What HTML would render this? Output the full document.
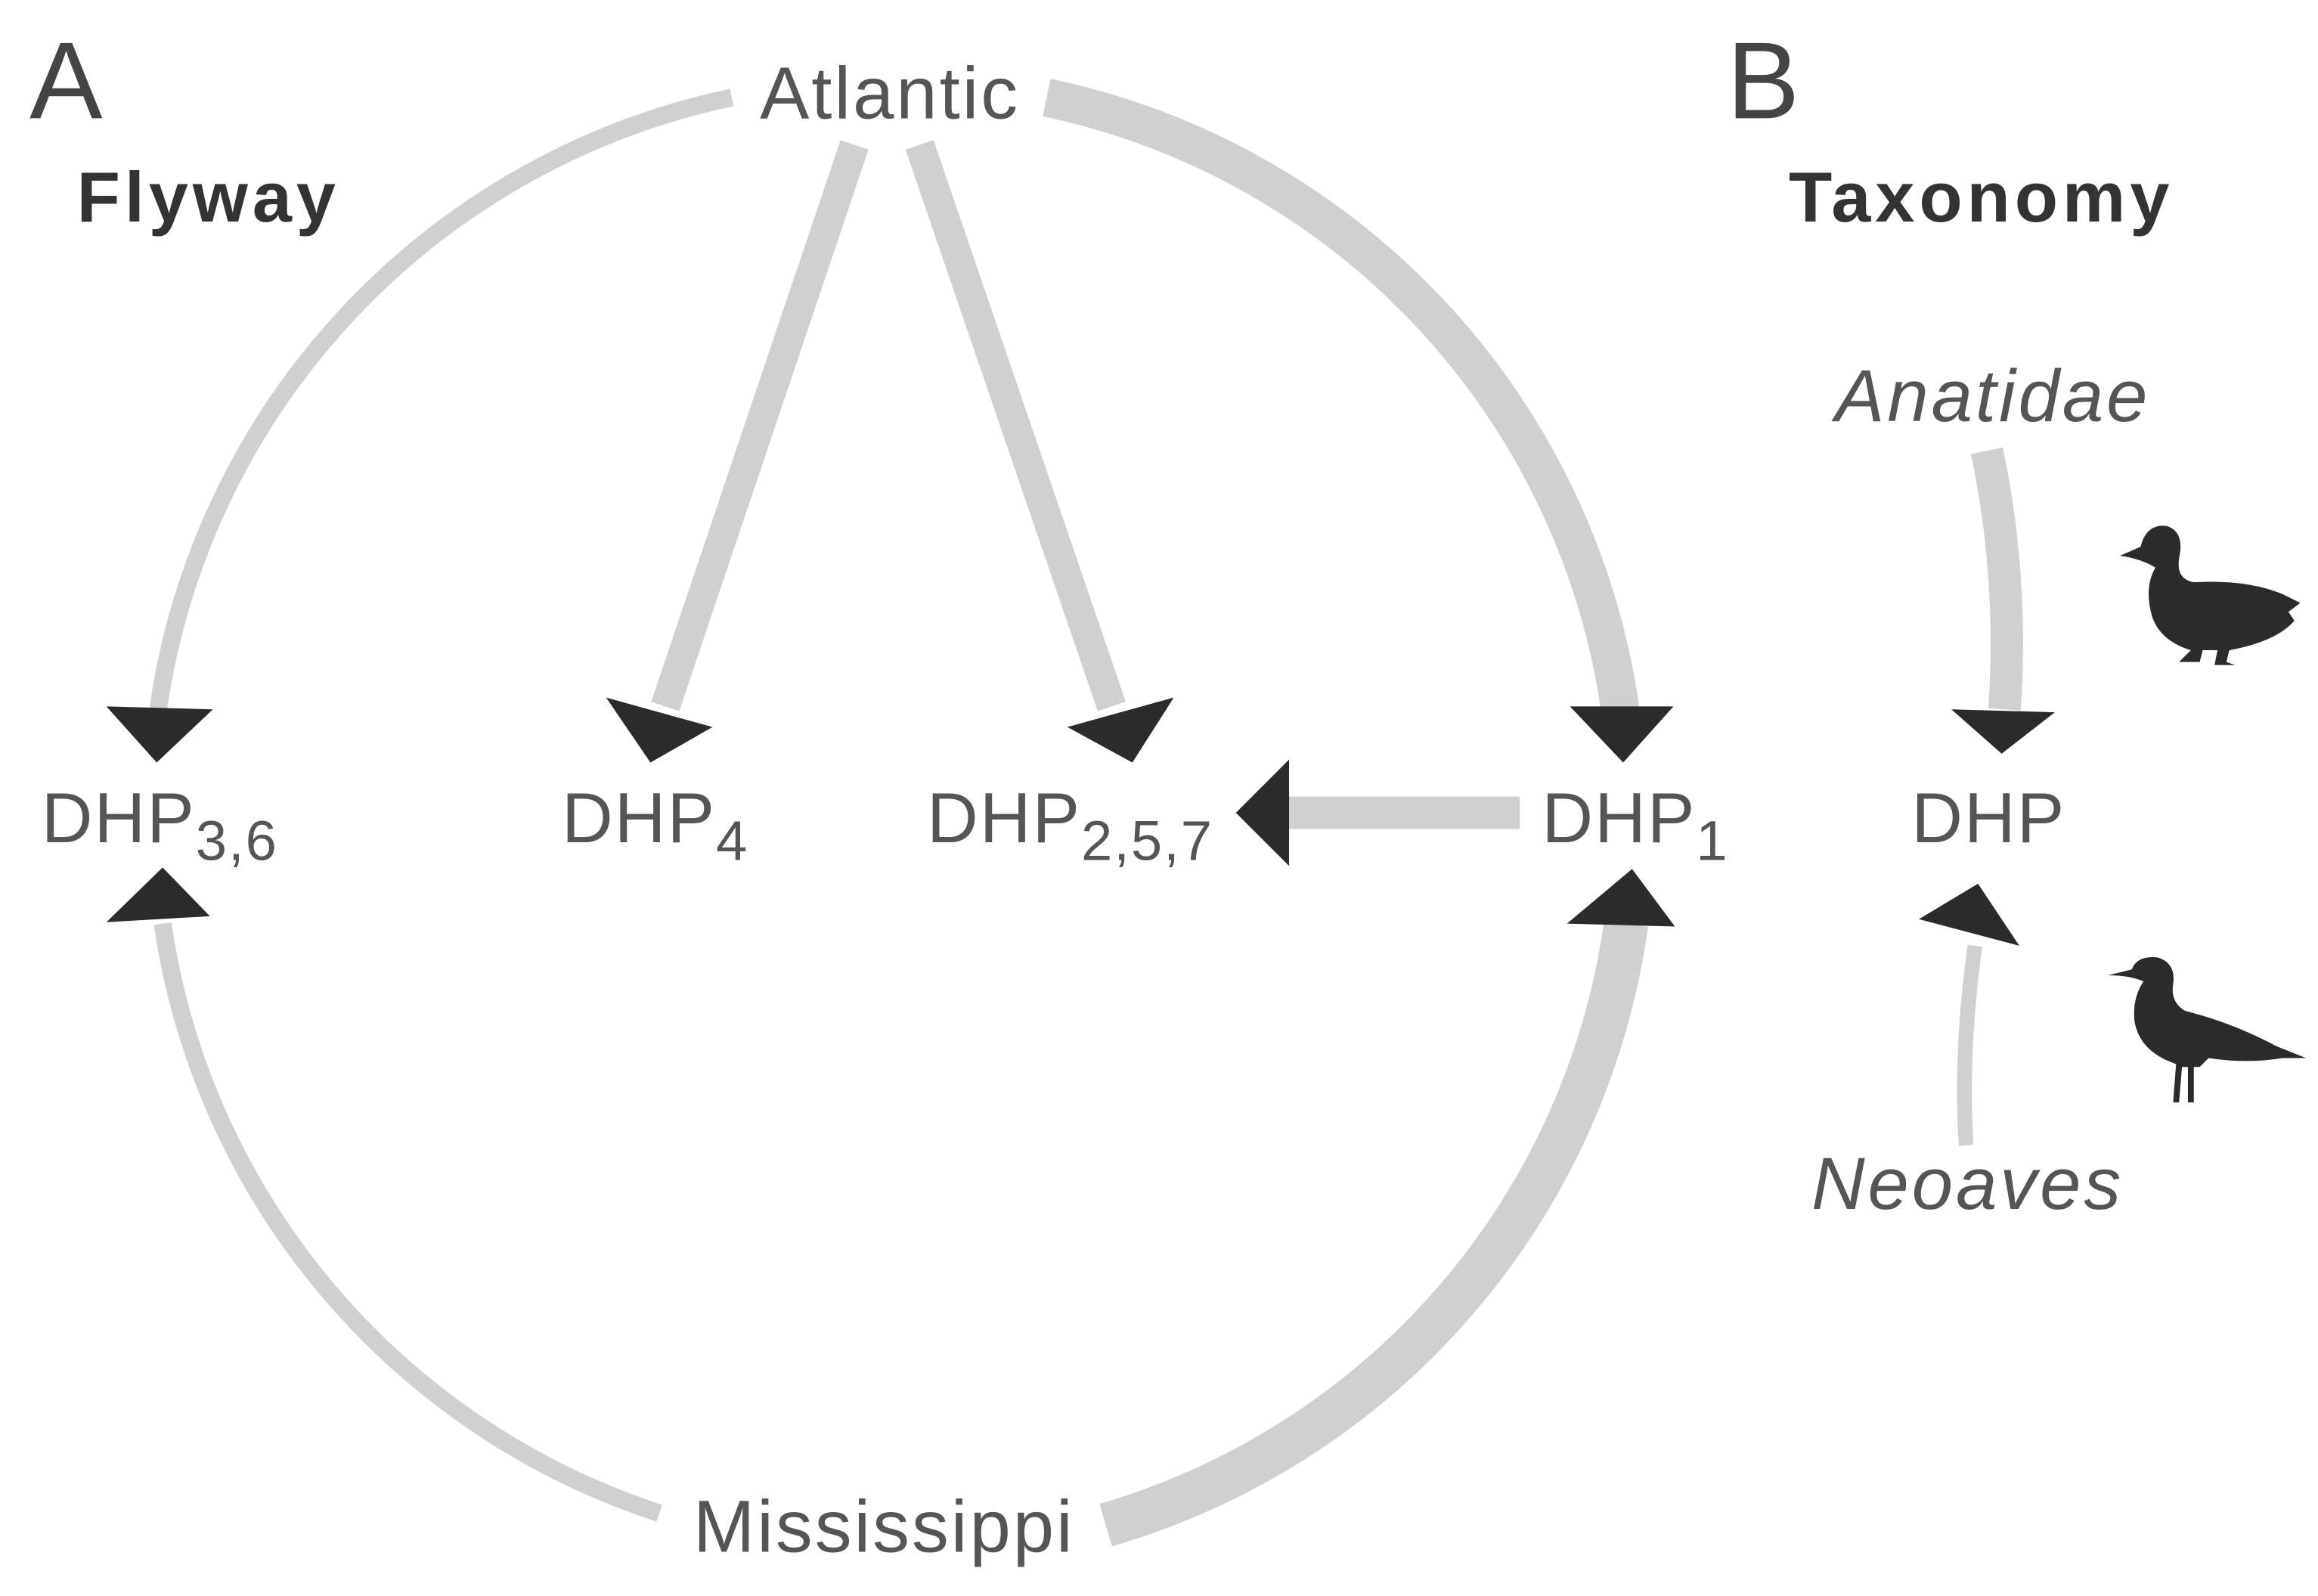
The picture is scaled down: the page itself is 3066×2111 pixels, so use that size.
<!DOCTYPE html>
<html><head><meta charset="utf-8"><style>
html,body{margin:0;padding:0;background:#fff;}
svg{display:block;}
text{font-family:"Liberation Sans",sans-serif;}
</style></head><body>
<svg width="3066" height="2111" viewBox="0 0 1568 1080" preserveAspectRatio="none" xmlns="http://www.w3.org/2000/svg">
<rect width="1568" height="1080" fill="#fff"/>
<g fill="none" stroke="#d0d0d0" stroke-linecap="butt">
  <path d="M495,66 A495,495 0 0 0 107,480" stroke-width="12"/>
  <path d="M110,625 A495,495 0 0 0 446,1024" stroke-width="12"/>
  <path d="M708,66 A495,495 0 0 1 1096,480" stroke-width="26"/>
  <path d="M1100,625 A495,495 0 0 1 748,1032" stroke-width="30"/>
  <line x1="578" y1="98" x2="450" y2="478" stroke-width="20"/>
  <line x1="622" y1="98" x2="752" y2="478" stroke-width="20"/>
  <line x1="870" y1="550" x2="1028" y2="550" stroke-width="22"/>
  <path d="M1344,305 Q1362,390 1356,480" stroke-width="22"/>
  <path d="M1336,640 Q1326,710 1330,775" stroke-width="10"/>
</g>
<g fill="#2b2b2b">
  <polygon points="72,478 144,480 106,516"/>
  <polygon points="1062,478 1132,478 1098,516"/>
  <polygon points="72,624 142,620 110,587"/>
  <polygon points="1060,625 1133,627 1104,588"/>
  <polygon points="410,472 482,492 440,516"/>
  <polygon points="722,492 794,472 766,516"/>
  <polygon points="872,514 872,586 836,550"/>
  <polygon points="1320,480 1390,482 1354,510"/>
  <polygon points="1298,622 1366,640 1338,598"/>
  <path d="M1434,376 L1448,370 Q1452,354 1466,356 Q1478,360 1474,378 Q1472,392 1484,394 Q1520,392 1544,402 L1556,408 L1548,414 L1552,420 Q1540,434 1508,440 L1506,448 L1512,450 L1498,450 L1500,440 L1490,440 L1488,448 L1474,448 L1482,440 Q1462,434 1456,418 Q1450,398 1458,384 Q1448,378 1434,376 Z"/>
  <path d="M1426,660 L1442,656 Q1446,646 1460,648 Q1472,652 1470,666 Q1468,678 1478,684 Q1510,692 1540,708 L1560,716 L1544,716 Q1520,720 1494,716 L1488,722 L1484,722 L1484,746 L1480,746 L1480,722 L1476,722 L1474,746 L1470,746 L1472,720 Q1448,712 1444,692 Q1442,676 1450,664 Q1440,660 1426,660 Z"/>
</g>
<g fill="#555" font-size="48">
  <text x="20" y="80" font-size="74" fill="#444">A</text>
  <text x="1168" y="80" font-size="74" fill="#444">B</text>
  <text x="602" y="80" text-anchor="middle" font-size="50" letter-spacing="1.5">Atlantic</text>
  <text x="598" y="1050" text-anchor="middle" font-size="50" letter-spacing="1.5">Mississippi</text>
  <text x="28" y="570" letter-spacing="1">DHP<tspan font-size="38" dy="12">3,6</tspan></text>
  <text x="380" y="570" letter-spacing="1">DHP<tspan font-size="38" dy="12">4</tspan></text>
  <text x="627" y="570" letter-spacing="1">DHP<tspan font-size="38" dy="12">2,5,7</tspan></text>
  <text x="1043" y="570" letter-spacing="1">DHP<tspan font-size="38" dy="12">1</tspan></text>
  <text x="1293" y="570" letter-spacing="1">DHP</text>
  <text x="1348" y="285" text-anchor="middle" font-style="italic" font-size="50" letter-spacing="2">Anatidae</text>
  <text x="1331" y="818" text-anchor="middle" font-style="italic" font-size="50" letter-spacing="2">Neoaves</text>
  <text x="52" y="150" font-weight="bold" fill="#333" font-size="48" letter-spacing="3">Flyway</text>
  <text x="1210" y="150" font-weight="bold" fill="#333" font-size="48" letter-spacing="3">Taxonomy</text>
</g>
</svg>
</body></html>
